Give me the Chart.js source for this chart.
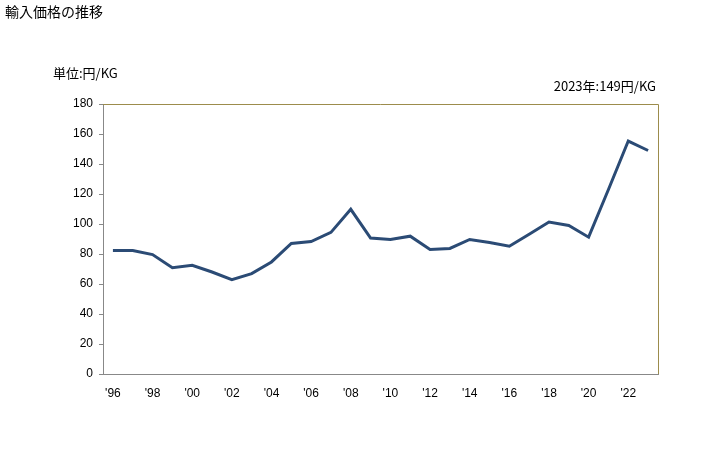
<!DOCTYPE html>
<html>
<head>
<meta charset="utf-8">
<script src="https://cdn.jsdelivr.net/npm/chart.js@4"></script>
<style>
  body { margin: 0; background: #fff; }
  #wrap { width: 728px; height: 450px; }
</style>
</head>
<body>
<div id="wrap"><canvas id="priceChart" width="728" height="450"></canvas></div>
<script>
const years = [1996, 1997, 1998, 1999, 2000, 2001, 2002, 2003, 2004, 2005, 2006, 2007, 2008, 2009,
               2010, 2011, 2012, 2013, 2014, 2015, 2016, 2017, 2018, 2019, 2020, 2021, 2022, 2023];
const prices = [82.3, 82.3, 79.6, 70.9, 72.5, 68, 62.9, 66.9, 74.7, 87, 88.3, 94.4, 109.8, 90.6,
                89.7, 91.9, 83, 83.7, 89.7, 87.7, 85.2, 93.2, 101.3, 99, 91.2, 123, 155.3, 149];
const yTicks = [0, 20, 40, 60, 80, 100, 120, 140, 160, 180];

const titleText = "輸入価格の推移";
const unitText = "単位:円/KG";
const noteText = "2023年:149円/KG";

const fontFamily = "'Liberation Sans', 'Noto Sans CJK JP', sans-serif";

// 枠線(上と右)と文字
const extras = {
    id: "extras",
    afterDraw(chart) {
        const ctx = chart.ctx;
        const a = chart.chartArea;
        ctx.save();
        ctx.strokeStyle = "#9c8c4c";
        ctx.lineWidth = 1;
        ctx.beginPath();
        ctx.moveTo(a.left, a.top + 0.5);
        ctx.lineTo(a.right + 0.5, a.top + 0.5);
        ctx.lineTo(a.right + 0.5, a.bottom);
        ctx.stroke();

        ctx.fillStyle = "#000";
        ctx.textBaseline = "middle";
        ctx.font = "14px 'Noto Sans CJK JP', sans-serif";
        ctx.textAlign = "left";
        ctx.fillText(titleText, 5, 12);
        ctx.font = "13px 'Noto Sans CJK JP', sans-serif";
        ctx.fillText(unitText, 53, 73);
        ctx.textAlign = "right";
        ctx.fillText(noteText, 656, 86);
        ctx.restore();
    }
};

new Chart(document.getElementById("priceChart"), {
    type: "line",
    data: {
        labels: years,
        datasets: [{
            data: prices,
            borderColor: "#2b4b75",
            borderWidth: 3,
            pointRadius: 0,
            tension: 0,
            fill: false
        }]
    },
    options: {
        responsive: false,
        animation: false,
        layout: { padding: { top: 104, right: 70, left: 0, bottom: 0 } },
        plugins: { legend: { display: false }, tooltip: { enabled: false } },
        scales: {
            x: {
                offset: true,
                grid: { display: false },
                border: { color: "#888", width: 1 },
                ticks: {
                    autoSkip: false,
                    maxRotation: 0,
                    padding: 4,
                    color: "#000",
                    font: { family: fontFamily, size: 12 },
                    callback: (v, i) => years[i] % 2 === 0 ? "'" + String(years[i]).slice(2) : ""
                },
                afterFit: s => { s.height = 76; }
            },
            y: {
                min: 0,
                max: 180,
                afterBuildTicks: s => { s.ticks = yTicks.map(v => ({ value: v })); },
                grid: { drawOnChartArea: false, tickLength: 4, color: "#888" },
                border: { color: "#888", width: 1 },
                ticks: {
                    padding: 6,
                    color: "#000",
                    font: { family: fontFamily, size: 12 }
                },
                afterFit: s => { s.width = 103; }
            }
        }
    },
    plugins: [extras]
});
</script>
</body>
</html>
